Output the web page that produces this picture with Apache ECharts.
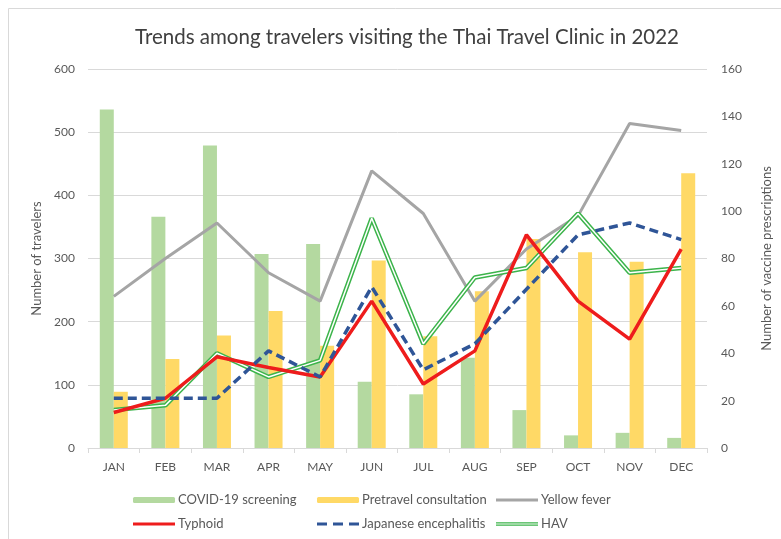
<!DOCTYPE html>
<html>
<head>
<meta charset="utf-8">
<script src="https://cdn.jsdelivr.net/npm/echarts@6/dist/echarts.min.js"></script>
<style>
html,body{margin:0;padding:0;background:#fff;}
#chart{width:781px;height:539px;}
</style>
</head>
<body>
<div id="chart"></div>
<script>
const months = ['JAN','FEB','MAR','APR','MAY','JUN','JUL','AUG','SEP','OCT','NOV','DEC'];
const leftTicks = [0, 100, 200, 300, 400, 500, 600];
const rightTicks = [0, 20, 40, 60, 80, 100, 120, 140, 160];
const covidScreening = [536, 366, 479, 307, 323, 105, 85, 143, 60, 20, 24, 16];
const pretravel = [89, 141, 178, 217, 162, 297, 177, 248, 331, 310, 295, 435];
const yellowFever = [64, 80, 95, 74, 62, 117, 99, 62, 84, 98, 137, 134];
const typhoid = [15, 21, 38.5, 34, 30, 62, 27, 41, 90, 62, 46, 84];
const japEnc = [21, 21, 21, 41, 30, 68, 33, 44, 67, 90, 95, 88];
const hav = [16, 18, 40, 30, 37, 97, 44, 72, 76, 99, 74, 76];

const FONT = 'Lato';
const TXT = '#595959';
const C = {
  covid: '#b4d9a0', pre: '#ffd966', yf: '#a5a5a5', ty: '#ee1c1c', je: '#2f5597', hav: '#3cb44b'
};
// legend icon shapes (invisible corner specks keep the 42x6 box)
const SPECKS = 'M0,0h0.01v0.01h-0.01z M42,6h-0.01v-0.01h0.01z ';
const LINE_ICON = 'path://' + SPECKS + 'M0,1.6h42v2.8h-42z';
const DASH_ICON = 'path://' + SPECKS + 'M0,1.6h10v2.8h-10z M16,1.6h10v2.8h-10z M32,1.6h10v2.8h-10z';
const DOUBLE_ICON = 'path://' + SPECKS + 'M0,1.2h42v1.2h-42z M0,3.6h42v1.2h-42z';

const chart = echarts.init(document.getElementById('chart'), null, {renderer: 'canvas'});
const legendCommon = {
  orient: 'vertical', itemWidth: 42, itemHeight: 6, itemGap: 8,
  textStyle: {fontFamily: FONT, fontSize: 13, color: TXT, lineHeight: 16, padding: [0, 0, 0, -2]},
  top: 492, padding: 0
};
chart.setOption({
  animation: false,
  textStyle: {fontFamily: FONT},
  graphic: [{
    type: 'rect', shape: {x: 8.5, y: 8.5, width: 900, height: 900},
    style: {fill: 'none', stroke: '#d9d9d9', lineWidth: 1}, silent: true, z: -10
  }],
  title: {
    text: 'Trends among travelers visiting the Thai Travel Clinic in 2022',
    left: 402, top: 22, textAlign: 'center',
    textStyle: {fontFamily: FONT, fontSize: 20.5, fontWeight: 'normal', color: '#404040'}
  },
  grid: {left: 88, right: 68, top: 69, bottom: 91, containLabel: false},
  legend: [
    Object.assign({}, legendCommon, {left: 133, data: [
      'COVID-19 screening',
      {name: 'Typhoid', icon: LINE_ICON, itemStyle: {color: C.ty, borderWidth: 0}}
    ]}),
    Object.assign({}, legendCommon, {left: 317, data: [
      'Pretravel consultation',
      {name: 'Japanese encephalitis', icon: DASH_ICON, itemStyle: {color: C.je, borderWidth: 0}}
    ]}),
    Object.assign({}, legendCommon, {left: 496, data: [
      {name: 'Yellow fever', icon: LINE_ICON, itemStyle: {color: C.yf, borderWidth: 0}},
      {name: 'HAV', icon: DOUBLE_ICON, itemStyle: {color: C.hav, borderWidth: 0}}
    ]})
  ],
  xAxis: {
    type: 'category', data: months,
    axisLine: {lineStyle: {color: '#d9d9d9', width: 1}},
    axisTick: {show: true, length: 5, lineStyle: {color: '#d9d9d9'}},
    axisLabel: {fontFamily: FONT, fontSize: 12, color: TXT, margin: 13}
  },
  yAxis: [{
    type: 'value', min: leftTicks[0], max: leftTicks[leftTicks.length - 1], interval: leftTicks[1] - leftTicks[0],
    name: 'Number of travelers', nameLocation: 'middle', nameRotate: 90, nameGap: 44,
    nameTextStyle: {fontFamily: FONT, fontSize: 13, color: TXT},
    axisLine: {show: false}, axisTick: {show: false},
    axisLabel: {fontFamily: FONT, fontSize: 12, color: TXT, margin: 13},
    splitLine: {lineStyle: {color: '#d9d9d9', width: 1}}
  }, {
    type: 'value', min: rightTicks[0], max: rightTicks[rightTicks.length - 1], interval: rightTicks[1] - rightTicks[0],
    name: 'Number of vaccine prescriptions', nameLocation: 'middle', nameRotate: 90, nameGap: 53,
    nameTextStyle: {fontFamily: FONT, fontSize: 13, color: TXT},
    axisLine: {show: false}, axisTick: {show: false},
    axisLabel: {fontFamily: FONT, fontSize: 12, color: TXT, margin: 14},
    splitLine: {show: false}
  }],
  series: [
    {name: 'COVID-19 screening', type: 'bar', data: covidScreening, yAxisIndex: 0, barWidth: 14, barGap: '0%', itemStyle: {color: C.covid}},
    {name: 'Pretravel consultation', type: 'bar', data: pretravel, yAxisIndex: 0, barWidth: 14, barGap: '0%', itemStyle: {color: C.pre}},
    {name: 'Yellow fever', type: 'line', data: yellowFever, yAxisIndex: 1, symbol: 'none', lineStyle: {color: C.yf, width: 3}, itemStyle: {color: C.yf}, z: 3},
    {name: 'HAV', type: 'line', data: hav, yAxisIndex: 1, symbol: 'none', lineStyle: {color: C.hav, width: 4.5}, itemStyle: {color: C.hav}, z: 4},
    {name: 'HAV-inner', type: 'line', data: hav, yAxisIndex: 1, symbol: 'none', lineStyle: {color: '#ffffff', width: 1.5}, itemStyle: {color: '#fff'}, z: 5},
    {name: 'Typhoid', type: 'line', data: typhoid, yAxisIndex: 1, symbol: 'none', lineStyle: {color: C.ty, width: 3.5}, itemStyle: {color: C.ty}, z: 6},
    {name: 'Japanese encephalitis', type: 'line', data: japEnc, yAxisIndex: 1, symbol: 'none', lineStyle: {color: C.je, width: 3.5, type: [9, 5]}, itemStyle: {color: C.je}, z: 7}
  ]
});
</script>
</body>
</html>
